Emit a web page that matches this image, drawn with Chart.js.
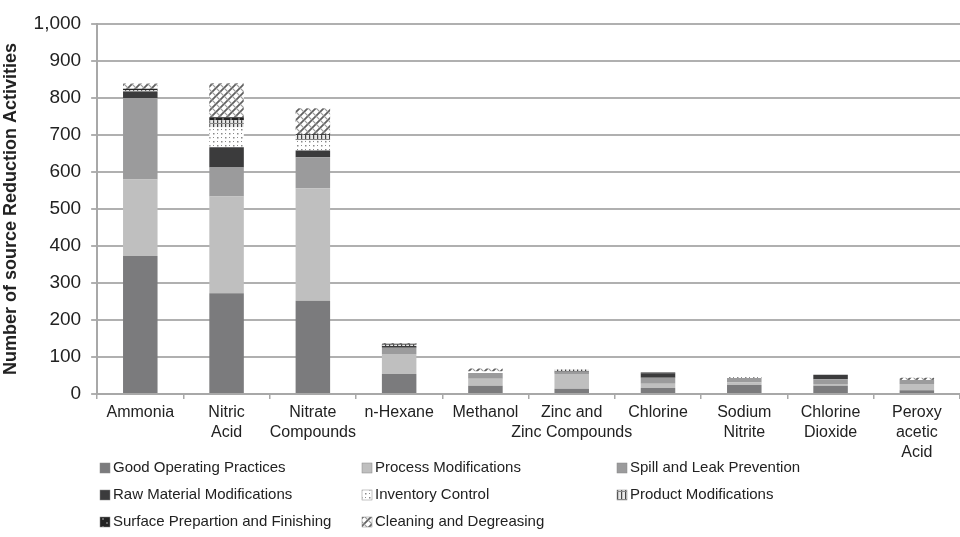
<!DOCTYPE html>
<html>
<head>
<meta charset="utf-8">
<script src="https://cdn.jsdelivr.net/npm/chart.js@4.4.1/dist/chart.umd.min.js"></script>
<style>
  html, body { margin: 0; padding: 0; background: #fff; }
  #wrap { width: 960px; height: 537px; }
</style>
</head>
<body>
<div id="wrap"><canvas id="chart" width="960" height="537"></canvas></div>
<script>
const categories = [
  'Ammonia', ['Nitric', 'Acid'], ['Nitrate', 'Compounds'], 'n-Hexane', 'Methanol',
  ['Zinc and', 'Zinc Compounds'], 'Chlorine', ['Sodium', 'Nitrite'], ['Chlorine', 'Dioxide'],
  ['Peroxy', 'acetic', 'Acid']
];

const goodOperating   = [373, 272, 252, 54, 22, 14, 16, 24, 22, 10];
const processMods     = [207, 262, 304, 54, 19, 40, 12, 7, 5, 17];
const spillLeak       = [220, 78, 84, 17, 16, 4, 16, 12, 13, 11];
const rawMaterial     = [16, 55, 18, 5, 0, 2, 12, 0, 12, 0];
const inventoryCtrl   = [0, 54, 28, 0, 4, 0, 0, 7, 0, 0];
const productMods     = [5, 19, 14, 3, 0, 6, 0, 0, 0, 0];
const surfacePrep     = [4, 8, 2, 3, 0, 0, 2, 0, 0, 0];
const cleaning        = [14, 92, 70, 2, 8, 0, 0, 0, 0, 6];

const yTicks = [0, 100, 200, 300, 400, 500, 600, 700, 800, 900, 1000];

function makePattern(kind) {
  const c = document.createElement('canvas');
  c.width = 8; c.height = 8;
  const g = c.getContext('2d');
  if (kind === 'dots') {
    g.fillStyle = '#fff'; g.fillRect(0, 0, 8, 8);
    g.fillStyle = '#8a8a8a';
    g.fillRect(1, 1, 1.5, 1.5); g.fillRect(5, 5, 1.5, 1.5);
    g.fillRect(5, 1, 1, 1); g.fillRect(1, 5, 1, 1);
  } else if (kind === 'vlines') {
    g.fillStyle = '#e8e8e8'; g.fillRect(0, 0, 8, 8);
    g.fillStyle = '#444';
    g.fillRect(1, 0, 1.2, 8); g.fillRect(5, 0, 1.2, 8);
    g.fillStyle = '#888'; g.fillRect(0, 3, 8, 1);
  } else if (kind === 'dark') {
    g.fillStyle = '#222'; g.fillRect(0, 0, 8, 8);
    g.fillStyle = '#666';
    g.fillRect(2, 2, 2, 2); g.fillRect(6, 6, 2, 2);
  } else if (kind === 'hatch') {
    g.fillStyle = '#fff'; g.fillRect(0, 0, 8, 8);
    g.strokeStyle = '#606060'; g.lineWidth = 1.8;
    g.beginPath();
    g.moveTo(0, 8); g.lineTo(8, 0);
    g.moveTo(-2, 2); g.lineTo(2, -2);
    g.moveTo(6, 10); g.lineTo(10, 6);
    g.stroke();
    g.strokeStyle = '#9a9a9a'; g.lineWidth = 1.2;
    g.beginPath(); g.moveTo(0, 0); g.lineTo(8, 8); g.stroke();
  }
  return g.createPattern(c, 'repeat');
}

const ctx = document.getElementById('chart').getContext('2d');

const series = [
  { label: 'Good Operating Practices', data: goodOperating, backgroundColor: '#7b7b7d' },
  { label: 'Process Modifications', data: processMods, backgroundColor: '#bfbfbf' },
  { label: 'Spill and Leak Prevention', data: spillLeak, backgroundColor: '#9b9b9c' },
  { label: 'Raw Material Modifications', data: rawMaterial, backgroundColor: '#3b3b3c' },
  { label: 'Inventory Control', data: inventoryCtrl, backgroundColor: makePattern('dots') },
  { label: 'Product Modifications', data: productMods, backgroundColor: makePattern('vlines') },
  { label: 'Surface Prepartion and Finishing', data: surfacePrep, backgroundColor: makePattern('dark') },
  { label: 'Cleaning and Degreasing', data: cleaning, backgroundColor: makePattern('hatch') }
];

// legend drawn in three fixed columns like the original
const gridLegend = {
  id: 'gridLegend',
  afterDraw(chart) {
    const g = chart.ctx;
    const cols = [100, 362, 617];
    const rows = [468, 495, 522];
    g.save();
    g.font = '15px "Liberation Sans", Arial, sans-serif';
    g.textBaseline = 'middle';
    chart.data.datasets.forEach((ds, i) => {
      const x = cols[i % 3];
      const y = rows[Math.floor(i / 3)];
      g.fillStyle = ds.backgroundColor;
      g.fillRect(x, y - 5, 10, 10);
      g.strokeStyle = '#888';
      g.lineWidth = 0.5;
      g.strokeRect(x, y - 5, 10, 10);
      g.fillStyle = '#222';
      g.fillText(ds.label, x + 13, y);
    });
    g.restore();
  }
};

new Chart(ctx, {
  type: 'bar',
  data: {
    labels: categories,
    datasets: series.map(s => ({
      ...s,
      borderWidth: 0,
      categoryPercentage: 1,
      barPercentage: 0.4
    }))
  },
  options: {
    responsive: false,
    animation: false,
    layout: { padding: { top: 24, right: 0, bottom: 70, left: 0 } },
    plugins: {
      legend: { display: false },
      tooltip: { enabled: false }
    },
    scales: {
      x: {
        stacked: true,
        grid: { display: true, drawOnChartArea: false, drawTicks: true, tickLength: 5, offset: true, color: '#a8a8a8', lineWidth: 1.5 },
        border: { color: '#a8a8a8', width: 2 },
        ticks: {
          color: '#222',
          font: { family: '"Liberation Sans", Arial, sans-serif', size: 16, lineHeight: 1.25 },
          maxRotation: 0, autoSkip: false, padding: 4
        }
      },
      y: {
        stacked: true,
        min: 0, max: 1000,
        afterBuildTicks(axis) { axis.ticks = yTicks.map(v => ({ value: v })); },
        grid: { color: '#b0b0b0', lineWidth: 2, tickLength: 6 },
        border: { color: '#a8a8a8', width: 2 },
        ticks: {
          color: '#222',
          font: { family: '"Liberation Sans", Arial, sans-serif', size: 19 },
          padding: 10,
          callback: v => v.toLocaleString('en-US')
        },
        title: {
          display: true,
          text: 'Number of source Reduction Activities',
          color: '#222',
          font: { family: '"Liberation Sans", Arial, sans-serif', size: 18, weight: 'bold' },
          padding: { top: 0, bottom: 2 }
        }
      }
    }
  },
  plugins: [gridLegend]
});
</script>
</body>
</html>
